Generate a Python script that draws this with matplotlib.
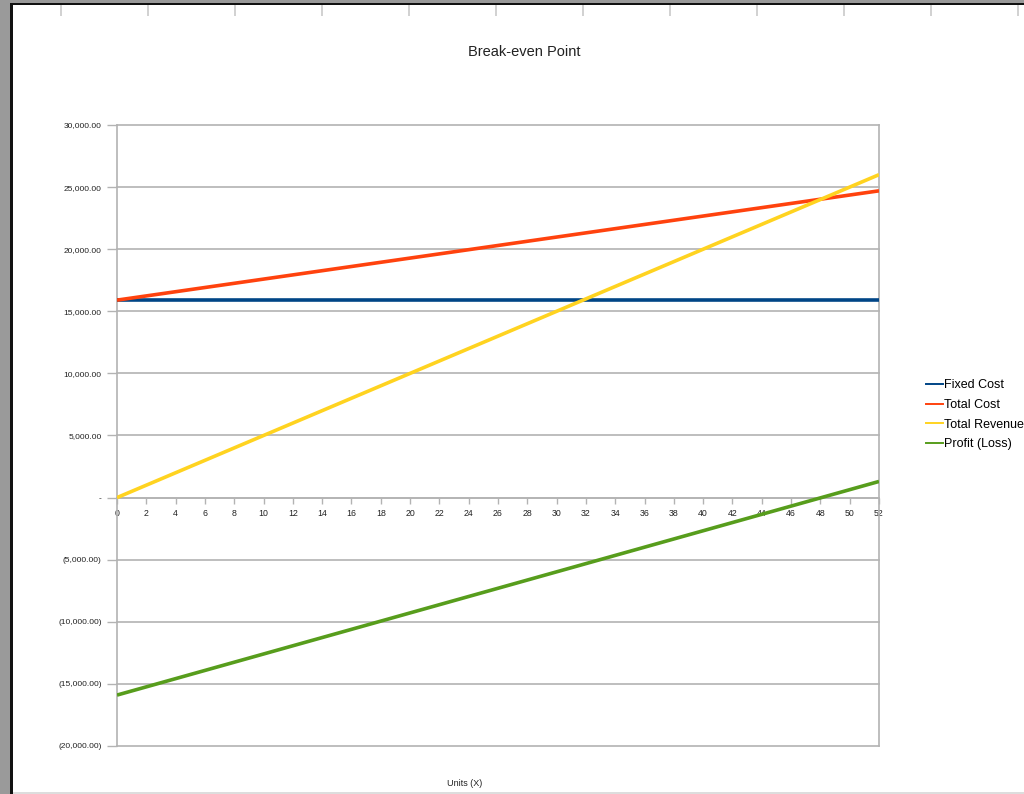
import matplotlib
matplotlib.use('Agg')
import matplotlib.pyplot as plt
from matplotlib.lines import Line2D
from matplotlib.patches import Rectangle
from matplotlib.ticker import FuncFormatter, MultipleLocator

plt.rcParams['font.family'] = ['Liberation Sans', 'DejaVu Sans']

# break-even chart data (straight lines)
units = [0, 52]
fixed_cost = [15900, 15900]
total_cost = [15900, 24700]
total_revenue = [0, 26000]
profit_loss = [-15900, 1300]

series_names = ['Fixed Cost', 'Total Cost', 'Total Revenue', 'Profit (Loss)']
series_colors = ['#004586', '#ff420e', '#ffd320', '#579d1c']

W, H = 1024, 794
fig = plt.figure(figsize=(W / 100, H / 100), dpi=100)
fig.patch.set_facecolor('white')

# screenshot frame (grey strip, black edges, ruler marks)
def px_rect(x, y, w, h, color):
    fig.add_artist(Rectangle((x / W, 1 - (y + h) / H), w / W, h / H,
                             transform=fig.transFigure, color=color, lw=0, zorder=0))

px_rect(0, 0, W, 3, '#999999')
px_rect(0, 0, 10, H, '#9a9a9a')
px_rect(10, 3, W - 10, 2, '#111111')
px_rect(10, 3, 3, H, '#111111')
px_rect(13, H - 2, W, 2, '#dddddd')
for k in range(12):
    px_rect(60 + 87 * k, 5, 2, 11, '#d2d2d2')

ax = fig.add_axes([117 / W, 1 - 746 / H, (879 - 117) / W, (746 - 125) / H])
ax.set_xlim(0, 52)
ax.set_ylim(-20000, 30000)

for vals, name, col in zip([fixed_cost, total_cost, total_revenue, profit_loss],
                           series_names, series_colors):
    ax.plot(units, vals, color=col, lw=2.6, solid_capstyle='butt', label=name, zorder=3)

grid_col = '#b3b3b3'
ax.yaxis.set_major_locator(MultipleLocator(5000))
ax.xaxis.set_major_locator(MultipleLocator(2))
ax.grid(axis='y', color=grid_col, lw=1.2)
ax.set_axisbelow(True)
for gl in ax.get_ygridlines():
    gl.set_clip_on(False)

ax.spines['top'].set_visible(False)
ax.spines['bottom'].set_position(('data', 0))
for s in ['left', 'right', 'bottom']:
    ax.spines[s].set_color(grid_col)
    ax.spines[s].set_linewidth(1.2)


def money(v, pos):
    if v == 0:
        return '-'
    if v < 0:
        return '({:,.2f})'.format(-v)
    return '{:,.2f}'.format(v)


ax.yaxis.set_major_formatter(FuncFormatter(money))
ax.tick_params(axis='y', length=7, width=1, color=grid_col, labelsize=6, pad=4,
               labelcolor='#222222')
ax.tick_params(axis='x', length=4, width=1, color=grid_col, labelsize=6.3, pad=4,
               labelcolor='#222222')

fig.text(524 / W, 1 - 52 / H, 'Break-even Point', ha='center', va='center',
         fontsize=10.5, color='#222222')
fig.text(465 / W, 1 - 783 / H, 'Units (X)', ha='center', va='center',
         fontsize=6.5, color='#222222')

handles = [Line2D([], [], color=c, lw=1.4) for c in series_colors]
fig.legend(handles, series_names, loc='upper left',
           bbox_to_anchor=(920 / W, 1 - 373 / H), frameon=False,
           fontsize=9, handlelength=1.3, handletextpad=0.1,
           labelspacing=0.62, borderpad=0)

fig.savefig('out.png', dpi=100)
